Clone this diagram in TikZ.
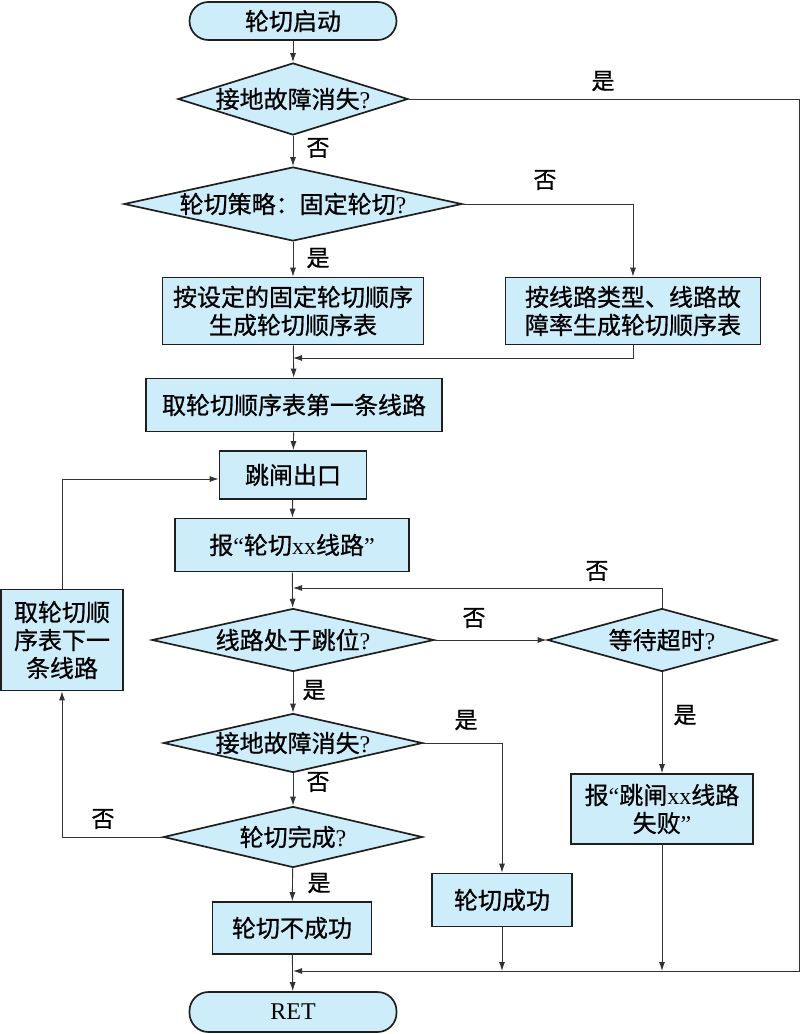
\documentclass[tikz,border=0pt]{standalone}
\usepackage{fontspec}
\setmainfont{Liberation Serif}
\newfontfamily\cjk[FakeBold=0.8]{Noto Sans CJK SC}
\usetikzlibrary{arrows.meta}
\usetikzlibrary{shapes.geometric}
\definecolor{boxblue}{RGB}{206,237,250}
\newcommand{\ask}{{\rmfamily ?}}
\tikzstyle{box}=[rectangle, draw=black!88, line width=1.7pt, fill=boxblue, inner sep=0pt, align=center, font=\cjk\fontsize{24}{28}\selectfont]
\tikzstyle{term}=[box, rounded corners=19pt]
\tikzstyle{decide}=[box, diamond]
\tikzstyle{yn}=[inner sep=0pt, font=\cjk\fontsize{23}{23}\selectfont]
\tikzset{arr/.style={draw=black!80, line width=0.9pt, -{Latex[length=9pt,width=6pt]}}}

\begin{document}
\begin{tikzpicture}[x=1pt,y=-1pt]
		\useasboundingbox (0,0) rectangle (800,1034);
		% main column
		\node[term, minimum width=207, minimum height=38] (start) at (293,21) {轮切启动};
		\node[decide, minimum width=230, minimum height=72] (d1) at (293,99) {\makebox[0pt]{接地故障消失\ask}};
		\node[decide, minimum width=338, minimum height=74] (d2) at (293,204) {\makebox[0pt]{轮切策略：固定轮切\ask}};
		\node[box, minimum width=261, minimum height=67] (fix) at (293,311) {按设定的固定轮切顺序\\生成轮切顺序表};
		\node[box, minimum width=255, minimum height=67] (auto) at (633,311) {按线路类型、线路故\\障率生成轮切顺序表};
		\node[box, minimum width=296, minimum height=53] (first) at (294,405) {取轮切顺序表第一条线路};
		\node[box, minimum width=147, minimum height=48] (trip) at (293,475) {跳闸出口};
		\node[box, minimum width=234, minimum height=53] (rep) at (292,545) {报{\rmfamily “}轮切{\rmfamily xx}线路{\rmfamily ”}};
		\node[decide, minimum width=282, minimum height=63] (d3) at (293,640) {\makebox[0pt]{线路处于跳位\ask}};
		\node[decide, minimum width=229, minimum height=63] (wait) at (662,640) {\makebox[0pt]{等待超时\ask}};
		\node[box, minimum width=122, minimum height=101] (next) at (62,640) {取轮切顺\\序表下一\\条线路};
		\node[decide, minimum width=259, minimum height=59] (d4) at (293,743) {\makebox[0pt]{接地故障消失\ask}};
		\node[box, minimum width=182, minimum height=70] (fail) at (662,809) {报{\rmfamily “}跳闸{\rmfamily xx}线路\\失败{\rmfamily ”}};
		\node[decide, minimum width=259, minimum height=61] (d5) at (293,837) {\makebox[0pt]{轮切完成\ask}};
		\node[box, minimum width=140, minimum height=53] (ok) at (502,900) {轮切成功};
		\node[box, minimum width=159, minimum height=52] (notok) at (292,928) {轮切不成功};
		\node[term, minimum width=207, minimum height=40, font=\rmfamily\fontsize{24}{28}\selectfont] (ret) at (293,1012) {RET};
		% junctions
		\coordinate (m1) at (293,358);
		\coordinate (m2) at (293,588);
		\coordinate (m3) at (293,971);
		\coordinate (rc) at (799,971);
		% yes / no
		\node[yn] (y1) at (603,81) {是};
		\node[yn] (n1) at (318,148) {否};
		\node[yn] (n2) at (545,180) {否};
		\node[yn] (y2) at (318,258) {是};
		\node[yn] (n3) at (597,571) {否};
		\node[yn] (n4) at (474,618) {否};
		\node[yn] (y3) at (314,690) {是};
		\node[yn] (y4) at (466,720) {是};
		\node[yn] (y5) at (685,715) {是};
		\node[yn] (n5) at (318,782) {否};
		\node[yn] (n6) at (103,819) {否};
		\node[yn] (y6) at (319,883) {是};
		% connectors
		\draw[arr] (start) -- (d1);
		\draw[arr] (d1) -- (d2);
		\draw[arr] (d1.east) -| (rc) -- (m3);
		\draw[arr] (d2) -- (fix);
		\draw[arr] (d2.east) -| (auto);
		\draw[arr] (fix) -- (first);
		\draw[arr] (auto.south) |- (m1);
		\draw[arr] (first) -- (trip);
		\draw[arr] (trip) -- (rep);
		\draw[arr] (rep) -- (d3);
		\draw[arr] (d3) -- (wait);
		\draw[arr] (wait.north) |- (m2);
		\draw[arr] (wait) -- (fail);
		\draw[arr] (d3) -- (d4);
		\draw[arr] (d4.east) -| (ok);
		\draw[arr] (d4) -- (d5);
		\draw[arr] (d5.west) -| (next);
		\draw[arr] (next.north) |- ([yshift=-4pt]trip.west);
		\draw[arr] (d5) -- (notok);
		\draw[arr] (notok) -- (ret);
		\draw[arr] (ok.south) -- (ok.south |- m3);
		\draw[arr] (fail.south) -- (fail.south |- m3);
		\end{tikzpicture}
\end{document}
